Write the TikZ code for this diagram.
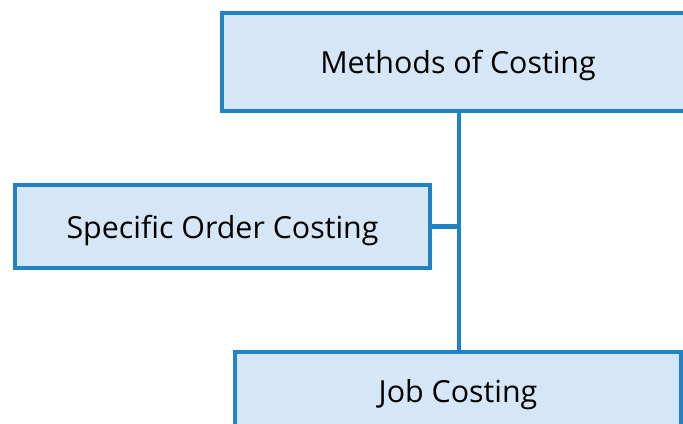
\documentclass[tikz,border=0pt]{standalone}
\usepackage{fontspec}
\setmainfont{Open Sans}
\definecolor{boxline}{HTML}{2282C8}
\definecolor{boxfill}{HTML}{D5E7F7}
\begin{document}
\begin{tikzpicture}[x=1bp,y=-1bp,
  costbox/.style={draw=boxline,fill=boxfill,line width=4.5bp,inner sep=0pt,
    font=\fontsize{30.5}{36}\selectfont,text=black,text depth=0pt},
  conn/.style={draw=boxline,line width=4.5bp}]
\useasboundingbox (0,0) rectangle (683,423);
\clip (0,0) rectangle (683,423);
\node[costbox,minimum width=472bp,minimum height=98bp] (top) at (458,62) {Methods of Costing};
\node[costbox,minimum width=415bp,minimum height=83bp] (spec) at (222.5,226.5) {Specific Order Costing};
\node[costbox,minimum width=446bp,minimum height=78bp] (job) at (458,391) {Job Costing};
\coordinate (j) at (459,226.5);
\draw[conn] (top.south -| j) -- (job.north -| j);
\draw[conn] (spec.east) -- (j);
\end{tikzpicture}
\end{document}
